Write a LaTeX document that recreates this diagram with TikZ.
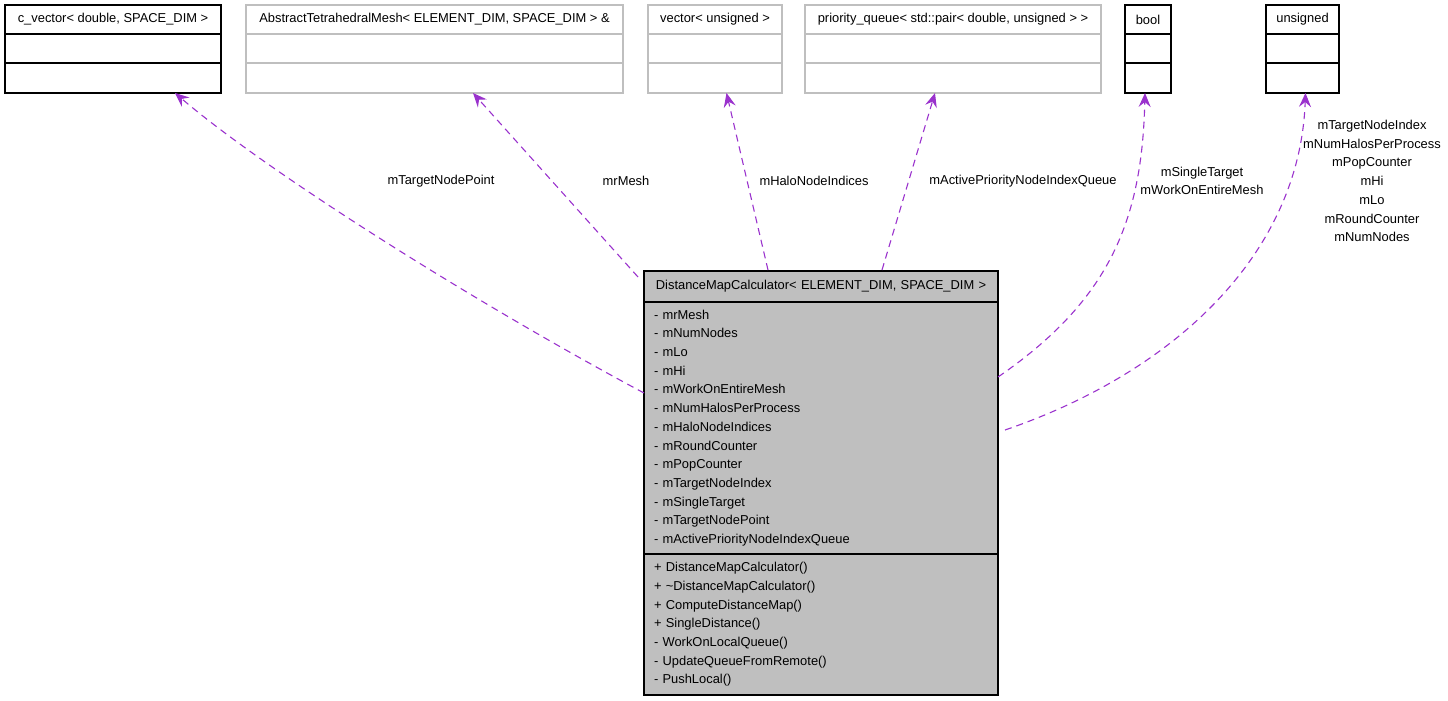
\documentclass[tikz,border=0pt]{standalone}
\usepackage{fontspec}
\setmainfont{Liberation Sans}
\usetikzlibrary{positioning,arrows.meta}
\definecolor{linkpurple}{HTML}{9A32CD}
\definecolor{boxgray}{HTML}{BFBFBF}

\begin{document}
\begin{tikzpicture}[x=1pt, y=-1pt,
  every node/.style={font=\fontsize{12.9pt}{18.7pt}\selectfont},
  class part/.style={draw, line width=1.1pt, inner sep=0pt, outer sep=0pt, anchor=north west, minimum height=29pt},
  tmpl part/.style={class part, draw=boxgray},
  main part/.style={class part, fill=boxgray, minimum width=354pt, text width=334pt, inner xsep=10pt, align=left},
  link/.style={draw=linkpurple, line width=1.1pt, dash pattern=on 7pt off 5pt, -{Stealth[length=14pt, width=12pt, inset=5pt]}},
  link label/.style={align=center}]

\useasboundingbox (0,0) rectangle (1448,701);

% used classes
\node[class part, minimum width=216pt] (cvec) at (5,5) {c\_vector< double, SPACE\_DIM >};
\node[class part, minimum width=216pt] (cveca) [below=0pt of cvec] {};
\node[class part, minimum width=216pt, minimum height=30pt] (cveco) [below=0pt of cveca] {};

\node[tmpl part, minimum width=377pt] (mesh) at (246,5) {AbstractTetrahedralMesh< ELEMENT\_DIM, SPACE\_DIM > \&};
\node[tmpl part, minimum width=377pt] (mesha) [below=0pt of mesh] {};
\node[tmpl part, minimum width=377pt, minimum height=30pt] (mesho) [below=0pt of mesha] {};

\node[tmpl part, minimum width=134pt] (vec) at (648,5) {vector< unsigned >};
\node[tmpl part, minimum width=134pt] (veca) [below=0pt of vec] {};
\node[tmpl part, minimum width=134pt, minimum height=30pt] (veco) [below=0pt of veca] {};

\node[tmpl part, minimum width=296pt] (prio) at (805,5) {priority\_queue< std::pair< double, unsigned > >};
\node[tmpl part, minimum width=296pt] (prioa) [below=0pt of prio] {};
\node[tmpl part, minimum width=296pt, minimum height=30pt] (prioo) [below=0pt of prioa] {};

\node[class part, minimum width=46pt] (bool) at (1125,5) {bool};
\node[class part, minimum width=46pt] (boola) [below=0pt of bool] {};
\node[class part, minimum width=46pt, minimum height=30pt] (boolo) [below=0pt of boola] {};

\node[class part, minimum width=73pt] (uns) at (1266,5) {unsigned};
\node[class part, minimum width=73pt] (unsa) [below=0pt of uns] {};
\node[class part, minimum width=73pt, minimum height=30pt] (unso) [below=0pt of unsa] {};

% the calculator
\node[main part, minimum height=31pt, align=center] (calc) at (644,271) {DistanceMapCalculator< ELEMENT\_DIM, SPACE\_DIM >};
\node[main part, minimum height=252pt] (calca) [below=0pt of calc] {- mrMesh\\- mNumNodes\\- mLo\\- mHi\\- mWorkOnEntireMesh\\- mNumHalosPerProcess\\- mHaloNodeIndices\\- mRoundCounter\\- mPopCounter\\- mTargetNodeIndex\\- mSingleTarget\\- mTargetNodePoint\\- mActivePriorityNodeIndexQueue};
\node[main part, minimum height=141pt] (calco) [below=0pt of calca] {+ DistanceMapCalculator()\\+ \textasciitilde DistanceMapCalculator()\\+ ComputeDistanceMap()\\+ SingleDistance()\\- WorkOnLocalQueue()\\- UpdateQueueFromRemote()\\- PushLocal()};

\draw[link] ([yshift=35pt]calca.west) .. controls (470,300) and (265,170) .. ([xshift=62pt]cveco.south);
\draw[link] ([xshift=-6pt,yshift=-6pt]calc.north west) -- ([xshift=38.5pt]mesho.south);
\draw[link] ([xshift=-53pt,yshift=1pt]calc.north) -- ([xshift=11.5pt]veco.south);
\draw[link] ([xshift=61pt,yshift=1pt]calc.north) -- ([xshift=-18pt]prioo.south);
\draw[link] ([yshift=51pt]calca.east) .. controls (1110,300) and (1142,220) .. ([xshift=-3pt]boolo.south);
\draw[link] ([xshift=7pt,yshift=-2pt]calca.east) .. controls (1180,370) and (1300,250) .. ([xshift=3pt]unso.south);

\node[link label] (l1) at (441,181) {mTargetNodePoint};
\node[link label] (l2) at (626,181) {mrMesh};
\node[link label] (l3) at (814,181) {mHaloNodeIndices};
\node[link label] (l4) at (1023,181) {mActivePriorityNodeIndexQueue};
\node[link label] (l5) at (1202,181) {mSingleTarget\\mWorkOnEntireMesh};
\node[link label] (l6) at (1372,181) {mTargetNodeIndex\\mNumHalosPerProcess\\mPopCounter\\mHi\\mLo\\mRoundCounter\\mNumNodes};

\end{tikzpicture}
\end{document}
